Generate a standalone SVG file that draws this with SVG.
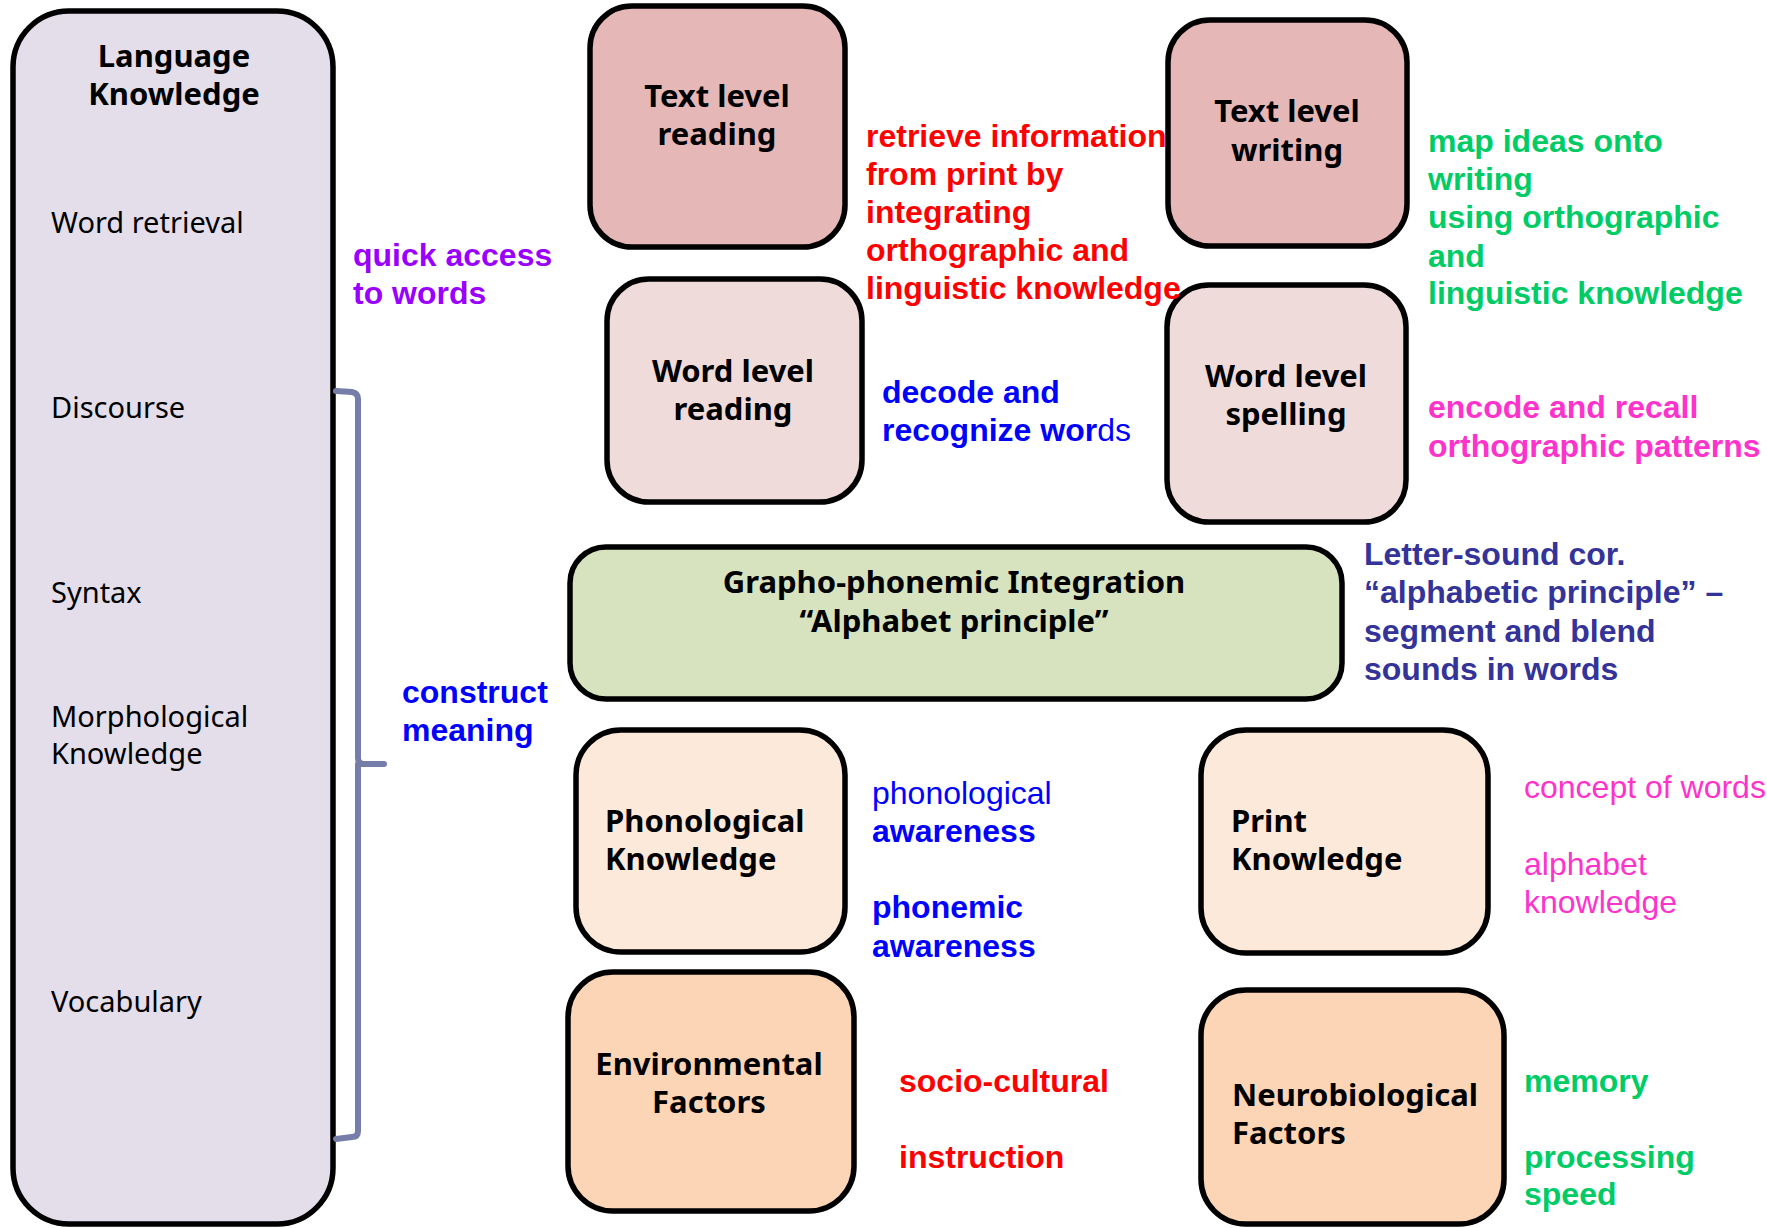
<svg xmlns="http://www.w3.org/2000/svg" width="1767" height="1228" viewBox="0 0 1767 1228">
  <style>
    .box { stroke: #000; stroke-width: 5.5; }
    .lk { fill: #E3DEEA; }
    .top { fill: #E5B8B7; }
    .mid { fill: #F0DBDB; }
    .gp { fill: #D7E3BF; }
    .lt { fill: #FCE9DA; }
    .dk { fill: #FBD5B5; }
    .nd { font-family: "Comic Sans MS", "Noto Sans", sans-serif; font-size: 31px; fill: #000; }
    .item { font-size: 29px; }
    .b { font-weight: bold; }
    .c { text-anchor: middle; }
    .ann { font-family: "Liberation Sans", Arial, sans-serif; font-size: 32px; }
    .red { fill: #FF0000; }
    .blue { fill: #0000FF; }
    .green { fill: #00CC66; }
    .pink { fill: #FF33CC; }
    .purple { fill: #9900FF; }
    .navy { fill: #333399; }
    .brace { fill: none; stroke: #767DA8; stroke-width: 6; stroke-linecap: round; stroke-linejoin: round; }
  </style>

  <!-- Language knowledge column -->
  <g id="language-knowledge">
    <rect class="box lk" x="13" y="11" width="320" height="1213" rx="56"/>
    <text class="nd b c" x="174" y="67">Language</text>
    <text class="nd b c" x="174" y="105">Knowledge</text>
    <text class="nd item" x="51" y="233">Word retrieval</text>
    <text class="nd item" x="51" y="418">Discourse</text>
    <text class="nd item" x="51" y="603">Syntax</text>
    <text class="nd item" x="51" y="727">Morphological</text>
    <text class="nd item" x="51" y="764">Knowledge</text>
    <text class="nd item" x="51" y="1012">Vocabulary</text>
  </g>

  <!-- Brace grouping discourse to vocabulary -->
  <g id="connectors">
    <path class="brace" d="M336,391 L352,392 Q358,393 358,399 L358,758 Q358,764 364,764 L384,764 M358,764 Q358,770 358,776 L358,1131 Q358,1137 352,1137 L336,1139"/>
  </g>

  <g id="quick-access">
    <text class="ann b purple" x="353" y="266">quick access</text>
    <text class="ann b purple" x="353" y="304">to words</text>
  </g>

  <g id="construct-meaning">
    <text class="ann b blue" x="402" y="703">construct</text>
    <text class="ann b blue" x="402" y="741">meaning</text>
  </g>

  <!-- Reading and writing column -->
  <g id="text-level-reading">
    <rect class="box top" x="590" y="6" width="255" height="241" rx="42"/>
    <text class="nd b c" x="717" y="107">Text level</text>
    <text class="nd b c" x="717" y="145">reading</text>
  </g>

  <g id="word-level-reading">
    <rect class="box mid" x="607" y="279" width="255" height="223" rx="42"/>
    <text class="nd b c" x="733" y="382">Word level</text>
    <text class="nd b c" x="733" y="420">reading</text>
  </g>

  <g id="text-level-writing">
    <rect class="box top" x="1168" y="20" width="239" height="226" rx="42"/>
    <text class="nd b c" x="1287" y="122">Text level</text>
    <text class="nd b c" x="1287" y="161">writing</text>
  </g>

  <g id="word-level-spelling">
    <rect class="box mid" x="1167" y="285" width="239" height="237" rx="42"/>
    <text class="nd b c" x="1286" y="387">Word level</text>
    <text class="nd b c" x="1286" y="425">spelling</text>
  </g>

  <g id="retrieve-information">
    <text class="ann b red" x="866" y="147">retrieve information</text>
    <text class="ann b red" x="866" y="185">from print by</text>
    <text class="ann b red" x="866" y="223">integrating</text>
    <text class="ann b red" x="866" y="261">orthographic and</text>
    <text class="ann b red" x="866" y="299">linguistic knowledge</text>
  </g>

  <g id="decode-words">
    <text class="ann b blue" x="882" y="403">decode and</text>
    <text class="ann blue" x="882" y="441"><tspan font-weight="bold">recognize wor</tspan>ds</text>
  </g>

  <g id="map-ideas">
    <text class="ann b green" x="1428" y="152">map ideas onto</text>
    <text class="ann b green" x="1428" y="190">writing</text>
    <text class="ann b green" x="1428" y="228">using orthographic</text>
    <text class="ann b green" x="1428" y="267">and</text>
    <text class="ann b green" x="1428" y="304">linguistic knowledge</text>
  </g>

  <g id="encode-recall">
    <text class="ann b pink" x="1428" y="418">encode and recall</text>
    <text class="ann b pink" x="1428" y="457">orthographic patterns</text>
  </g>

  <!-- Grapho-phonemic integration -->
  <g id="grapho-phonemic">
    <rect class="box gp" x="570" y="547" width="772" height="152" rx="36"/>
    <text class="nd b c" x="954" y="593">Grapho-phonemic Integration</text>
    <text class="nd b c" x="954" y="632">“Alphabet principle”</text>
  </g>

  <g id="letter-sound">
    <text class="ann b navy" x="1364" y="565">Letter-sound cor.</text>
    <text class="ann b navy" x="1364" y="603">“alphabetic principle” –</text>
    <text class="ann b navy" x="1364" y="642">segment and blend</text>
    <text class="ann b navy" x="1364" y="680">sounds in words</text>
  </g>

  <!-- Foundational knowledge -->
  <g id="phonological-knowledge">
    <rect class="box lt" x="576" y="730" width="269" height="222" rx="45"/>
    <text class="nd b" x="605" y="832">Phonological</text>
    <text class="nd b" x="605" y="870">Knowledge</text>
  </g>

  <g id="awareness">
    <text class="ann blue" x="872" y="804">phonological</text>
    <text class="ann b blue" x="872" y="842">awareness</text>
    <text class="ann b blue" x="872" y="918">phonemic</text>
    <text class="ann b blue" x="872" y="957">awareness</text>
  </g>

  <g id="print-knowledge">
    <rect class="box lt" x="1201" y="730" width="287" height="223" rx="45"/>
    <text class="nd b" x="1231" y="832">Print</text>
    <text class="nd b" x="1231" y="870">Knowledge</text>
  </g>

  <g id="print-concepts">
    <text class="ann pink" x="1524" y="798">concept of words</text>
    <text class="ann pink" x="1524" y="875">alphabet</text>
    <text class="ann pink" x="1524" y="913">knowledge</text>
  </g>

  <!-- Underlying factors -->
  <g id="environmental-factors">
    <rect class="box dk" x="568" y="972" width="286" height="239" rx="45"/>
    <text class="nd b c" x="709" y="1075">Environmental</text>
    <text class="nd b c" x="709" y="1113">Factors</text>
  </g>

  <g id="environment-items">
    <text class="ann b red" x="899" y="1092">socio-cultural</text>
    <text class="ann b red" x="899" y="1168">instruction</text>
  </g>

  <g id="neurobiological-factors">
    <rect class="box dk" x="1201" y="990" width="303" height="234" rx="45"/>
    <text class="nd b" x="1232" y="1106" font-size="30">Neurobiological</text>
    <text class="nd b" x="1232" y="1144" font-size="30">Factors</text>
  </g>

  <g id="neuro-items">
    <text class="ann b green" x="1524" y="1092">memory</text>
    <text class="ann b green" x="1524" y="1168">processing</text>
    <text class="ann b green" x="1524" y="1205">speed</text>
  </g>
</svg>
